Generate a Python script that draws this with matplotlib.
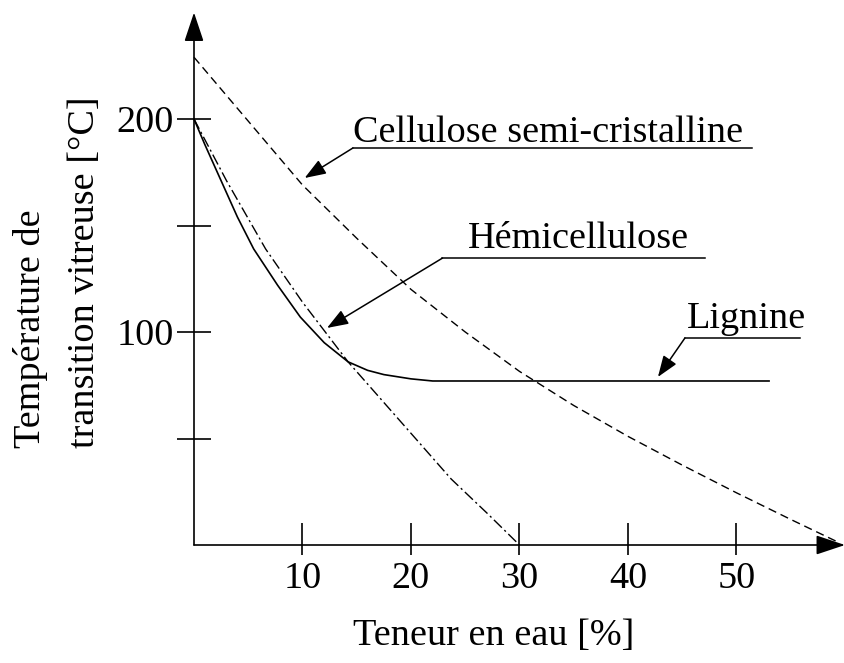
import matplotlib
matplotlib.use("Agg")
import matplotlib.pyplot as plt

plt.rcParams['font.family'] = ['Liberation Serif', 'DejaVu Serif']

# ---- data ----
cell_x = [0, 5, 10, 15, 20, 25, 30, 35, 40, 45, 50, 55, 59.5]
cell_y = [229, 199, 169, 144, 120, 100, 81.5, 65.5, 51, 37.5, 24.5, 12, 1]

hemi_x = [0, 3, 6.6, 10, 14.2, 18, 23.7, 27, 30]
hemi_y = [200, 171, 139, 114, 86, 64, 31, 15, 0]

lig_x = [0, 1, 2.5, 4, 5.5, 7.7, 9.8, 12, 14.2, 16, 17.5, 20, 22, 53]
lig_y = [200, 188, 171, 154, 139, 122, 107, 95, 86, 82, 80, 78, 77, 77]

x_ticks = [10, 20, 30, 40, 50]
x_ticklabels = ['10', '20', '30', '40', '50']
y_ticks = [50, 100, 150, 200]
y_ticklabels = ['', '100', '', '200']

labels = {
    'cell': 'Cellulose semi-cristalline',
    'hemi': 'Hémicellulose',
    'lig': 'Lignine',
}

# ---- figure ----
W, H = 845, 663
fig = plt.figure(figsize=(W / 100, H / 100), dpi=100)
x0px, y0px = 194, 545
pxx, pxy = 10.85, 2.13
xmax, ymax = 60.0, 250.0
ax = fig.add_axes([x0px / W, (H - y0px) / H, xmax * pxx / W, ymax * pxy / H])
ax.set_xlim(0, xmax)
ax.set_ylim(0, ymax)
for s in ['top', 'right', 'left', 'bottom']:
    ax.spines[s].set_visible(False)

fs = 27.5
lwax = 1.2

# axes with arrows
for end in [(xmax, 0), (0, ymax)]:
    ax.annotate('', xy=end, xytext=(0, 0), xycoords='data',
                arrowprops=dict(arrowstyle='-|>,head_length=0.9,head_width=0.3',
                                mutation_scale=20, lw=lwax, color='black',
                                shrinkA=0, shrinkB=0), annotation_clip=False)

# ticks
ax.set_xticks(x_ticks)
ax.set_xticklabels(x_ticklabels, fontsize=fs)
ax.set_xticks(x_ticks, minor=True)
ax.xaxis.remove_overlapping_locs = False
ax.tick_params(axis='x', which='major', direction='in', length=15.5, width=lwax, pad=12)
ax.tick_params(axis='x', which='minor', direction='out', length=7, width=lwax)
ax.set_yticks(y_ticks)
ax.set_yticklabels(y_ticklabels, fontsize=fs)
ax.tick_params(axis='y', which='major', direction='inout', length=24.5, width=lwax, pad=2)

# curves
ax.plot(cell_x, cell_y, color='black', lw=1.0, linestyle=(0, (6, 3.5)), clip_on=False)
ax.plot(hemi_x, hemi_y, color='black', lw=1.0, linestyle=(0, (8, 2.5, 1.5, 2.5)), clip_on=False)
ax.plot(lig_x, lig_y, color='black', lw=1.2, clip_on=False)

# annotations: (text, text x, text baseline y, underline x0, x1, y, arrow tip x, y)
ann = [
    (labels['cell'], 14.65, 189.2, 14.65, 51.4, 186.4, 10.2, 172.3),
    (labels['hemi'], 25.25, 139.4, 22.9, 47.1, 134.7, 12.26, 101.9),
    (labels['lig'], 45.4, 101.9, 45.25, 55.85, 97.2, 42.76, 78.9),
]
for txt, tx, ty, ux0, ux1, uy, ax_, ay in ann:
    ax.text(tx, ty, txt, fontsize=fs, ha='left', va='baseline')
    ax.plot([ux0, ux1], [uy, uy], color='black', lw=1.1, clip_on=False)
    ax.annotate('', xy=(ax_, ay), xytext=(ux0, uy),
                arrowprops=dict(arrowstyle='-|>,head_length=0.65,head_width=0.24',
                                mutation_scale=20, lw=1.1, color='black',
                                shrinkA=0, shrinkB=0), annotation_clip=False)

# axis titles
fig.text(494 / W, 1 - 636 / H, 'Teneur en eau [%]', fontsize=fs, ha='center', va='center')
fig.text(30 / W, 1 - 448 / H, 'Température de', fontsize=fs, rotation=90,
         rotation_mode='anchor', ha='left', va='center')
fig.text(85 / W, 1 - 448 / H, 'transition vitreuse [°C]', fontsize=fs, rotation=90,
         rotation_mode='anchor', ha='left', va='center')

fig.savefig('out.png', dpi=100)
